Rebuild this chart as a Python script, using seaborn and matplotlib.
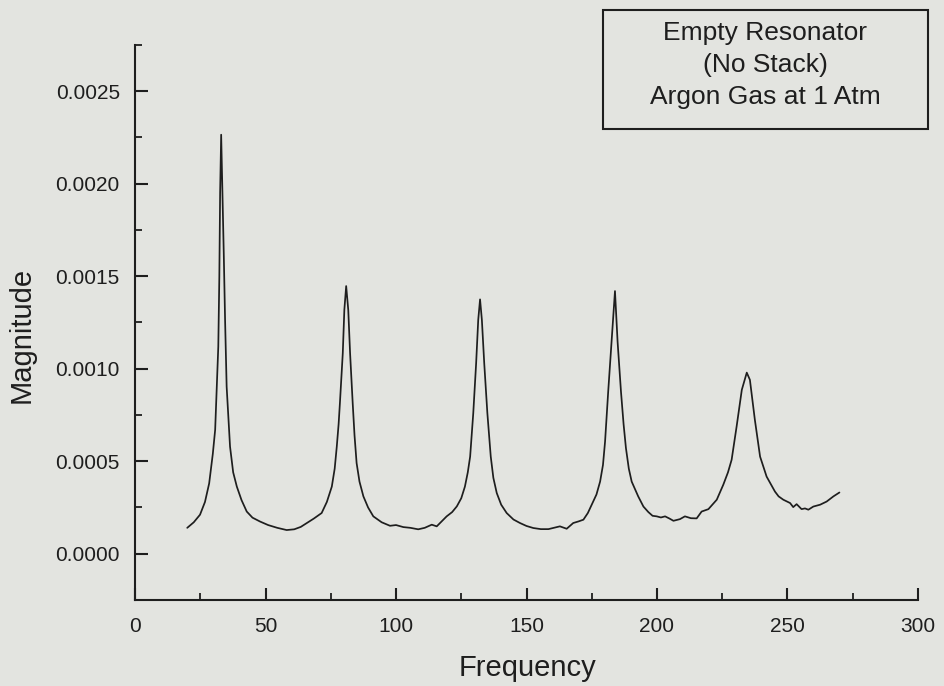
import pandas as pd
import seaborn as sns
import matplotlib.pyplot as plt
from matplotlib.patches import Rectangle
from matplotlib.ticker import MultipleLocator, FormatStrFormatter

# frequency response of the empty resonator
frequency = [
    20.0, 22.5, 24.9, 26.8, 28.4, 29.8, 30.7, 31.3, 31.9, 32.3, 32.6, 33.0,
    33.5, 34.0, 34.5, 35.1, 36.4, 37.6, 39.0, 40.8, 42.8, 45.0, 47.9, 51.0,
    54.5, 58.1, 61.0, 63.5, 65.8, 68.5, 71.5, 73.5, 75.4, 76.5, 77.3, 78.0,
    78.5, 79.6, 80.2, 80.9, 81.7, 82.4, 83.4, 84.1, 84.9, 86.0, 87.5, 89.3,
    91.3, 94.5, 97.7, 100.0, 102.8, 105.5, 108.5, 111.0, 113.7, 115.6, 117.5,
    119.4, 121.5, 123.3, 125.0, 126.4, 127.5, 128.4, 129.6, 130.7, 131.5,
    132.2, 132.9, 133.8, 135.0, 136.3, 137.3, 138.6, 140.3, 142.4, 145.0,
    147.5, 150.0, 152.6, 155.5, 158.4, 160.5, 162.8, 165.4, 167.9, 170.0,
    171.8, 173.5, 175.0, 176.8, 178.2, 179.3, 180.1, 181.3, 182.6, 183.9,
    184.9, 186.2, 187.2, 188.1, 189.2, 190.3, 192.8, 194.8, 196.7, 198.3,
    199.9, 201.5, 203.1, 204.8, 206.3, 208.8, 210.7, 213.0, 215.2, 217.1,
    219.7, 222.9, 225.4, 227.2, 228.6, 230.5, 232.5, 234.4, 235.6, 237.5,
    239.5, 242.0, 245.2, 246.6, 248.4, 251.0, 252.2, 253.5, 255.4, 256.7,
    258.0, 259.9, 262.5, 265.0, 267.6, 269.9,
]
magnitude = [
    0.000140, 0.000170, 0.000211, 0.000280, 0.000380, 0.000540, 0.000670,
    0.000900, 0.001120, 0.001500, 0.001950, 0.002265, 0.001950, 0.001620,
    0.001264, 0.000903, 0.000579, 0.000440, 0.000363, 0.000290, 0.000228,
    0.000195, 0.000174, 0.000155, 0.000140, 0.000128, 0.000132, 0.000145,
    0.000166, 0.000190, 0.000220, 0.000280, 0.000363, 0.000460, 0.000579,
    0.000700, 0.000814, 0.001084, 0.001318, 0.001447, 0.001318, 0.001084,
    0.000814, 0.000640, 0.000490, 0.000390, 0.000310, 0.000250, 0.000202,
    0.000170, 0.000151, 0.000155, 0.000144, 0.000140, 0.000132, 0.000140,
    0.000157, 0.000148, 0.000175, 0.000202, 0.000225, 0.000256, 0.000300,
    0.000363, 0.000440, 0.000525, 0.000760, 0.001030, 0.001264, 0.001375,
    0.001264, 0.001030, 0.000760, 0.000525, 0.000410, 0.000328, 0.000265,
    0.000220, 0.000185, 0.000166, 0.000150, 0.000139, 0.000133, 0.000133,
    0.000140, 0.000148, 0.000135, 0.000166, 0.000175, 0.000184, 0.000220,
    0.000265, 0.000320, 0.000390, 0.000480, 0.000606, 0.000876, 0.001146,
    0.001420, 0.001146, 0.000876, 0.000700, 0.000571, 0.000460, 0.000390,
    0.000310, 0.000255, 0.000225, 0.000205, 0.000202, 0.000196, 0.000202,
    0.000190, 0.000178, 0.000187, 0.000202, 0.000192, 0.000191, 0.000228,
    0.000241, 0.000292, 0.000373, 0.000440, 0.000508, 0.000687, 0.000886,
    0.000979, 0.000940, 0.000724, 0.000525, 0.000417, 0.000336, 0.000310,
    0.000292, 0.000274, 0.000252, 0.000268, 0.000241, 0.000245, 0.000238,
    0.000255, 0.000265, 0.000282, 0.000310, 0.000331,
]
box_lines = ["Empty Resonator", "(No Stack)", "Argon Gas at 1 Atm"]

bg = "#e3e4e0"
ink = "#1e1e1e"

sns.set_style("ticks")
plt.rcParams["font.family"] = ["Liberation Sans", "DejaVu Sans"]

df = pd.DataFrame({"Frequency": frequency, "Magnitude": magnitude})

fig = plt.figure(figsize=(9.45, 6.86), dpi=100, facecolor=bg)
ax = fig.add_axes([0.1429, 0.1254, 0.8285, 0.809])
ax.set_facecolor(bg)

sns.lineplot(data=df, x="Frequency", y="Magnitude", estimator=None,
             sort=False, color=ink, linewidth=1.25, ax=ax)

ax.set_xlim(0, 300)
ax.set_ylim(-0.00025, 0.00275)
ax.xaxis.set_major_locator(MultipleLocator(50))
ax.xaxis.set_minor_locator(MultipleLocator(25))
ax.yaxis.set_major_locator(MultipleLocator(0.0005))
ax.yaxis.set_minor_locator(MultipleLocator(0.00025))
ax.yaxis.set_major_formatter(FormatStrFormatter("%.4f"))
ax.set_yticks([0, 0.0005, 0.001, 0.0015, 0.002, 0.0025])

sns.despine(ax=ax)
for side in ["left", "bottom"]:
    ax.spines[side].set_linewidth(1.5)
    ax.spines[side].set_color(ink)

ax.tick_params(which="major", direction="in", length=9, width=1.5,
               color=ink, labelsize=15, labelcolor=ink)
ax.tick_params(which="minor", direction="in", length=5, width=1.3, color=ink)
ax.tick_params(axis="y", which="major", pad=11)
ax.tick_params(axis="x", which="major", pad=12)

ax.set_xlabel("Frequency", fontsize=21, color=ink, va="top")
ax.set_ylabel("Magnitude", fontsize=21, color=ink, va="center")
ax.xaxis.set_label_coords(0.501, -0.098)
ax.yaxis.set_label_coords(-0.145, 0.477)

# boxed annotation in the upper right corner
fig.patches.append(Rectangle((0.638, 0.812), 0.344, 0.1735, transform=fig.transFigure,
                             facecolor=bg, edgecolor=ink, linewidth=1.5))
for i, line in enumerate(box_lines):
    fig.text(0.810, 1 - (33 + 32 * i) / 686, line, ha="center", va="center",
             fontsize=19, color=ink)

fig.savefig("out.png", dpi=100, facecolor=bg)
